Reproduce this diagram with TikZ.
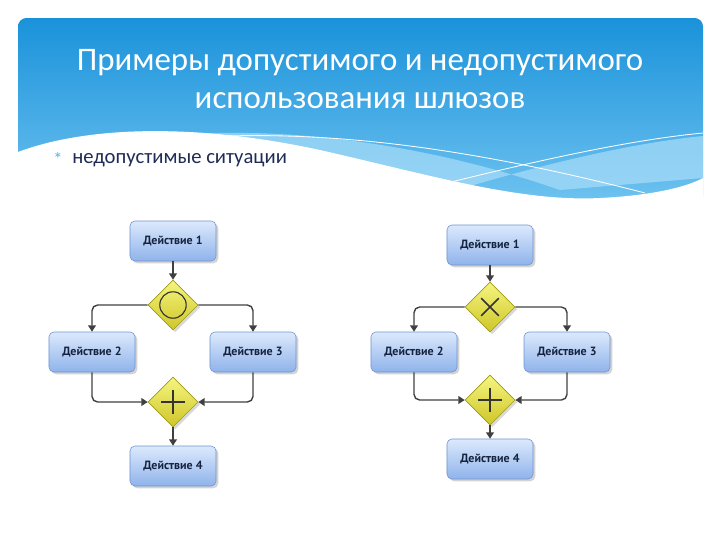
\documentclass[tikz,border=0pt]{standalone}
\usepackage{fontspec}
\setmainfont{Carlito}
\newfontfamily\boxfont{PT Sans}
\usetikzlibrary{shapes.geometric,arrows.meta,shadows}

\definecolor{bannertop}{HTML}{1A92DA}
\definecolor{bannerbot}{HTML}{6FC3F0}
\definecolor{bandlight}{HTML}{A9DDF8}
\definecolor{bullet}{HTML}{52B6E8}
\definecolor{navy}{HTML}{1F2C55}
\definecolor{boxtop}{HTML}{DCE9FC}
\definecolor{boxbot}{HTML}{8FB3EB}
\definecolor{boxline}{HTML}{6F94D2}
\definecolor{boxtext}{HTML}{15233F}
\definecolor{gatetop}{HTML}{F5F57E}
\definecolor{gatebot}{HTML}{CFC62A}
\definecolor{gateline}{HTML}{9E9A18}
\definecolor{flowline}{HTML}{404040}

\tikzset{
  action/.style={rounded corners=3.5pt,draw=boxline,top color=boxtop,bottom color=boxbot,
    minimum width=2.15cm,minimum height=1cm,text=boxtext,
    font=\boxfont\bfseries\fontsize{8.5}{10}\selectfont,
    drop shadow={opacity=0.35,shadow xshift=1.6pt,shadow yshift=-1.6pt}},
  gateway/.style={diamond,aspect=1,minimum size=1.25cm,inner sep=0pt,draw=gateline,
    top color=gatetop,bottom color=gatebot,
    drop shadow={opacity=0.3,shadow xshift=1.6pt,shadow yshift=-1.6pt}},
  flow/.style={draw=flowline,line width=1pt,rounded corners=4pt,
    -{Triangle[length=4.5pt,width=5.5pt]}},
  symbol/.style={draw=flowline!80!black,line width=1.2pt},
}

\begin{document}
\begin{tikzpicture}[x=0.025cm,y=-0.025cm]
  \useasboundingbox (0,0) rectangle (720,540);

  % баннер
  \shade[top color=bannertop,bottom color=bannerbot,rounded corners=6pt]
    (18,18) rectangle (703,205);
  \fill[bandlight,opacity=0.7] (190,134) .. controls (300,128) and (430,145) .. (560,190)
    -- (703,178) -- (703,136) .. controls (640,142) and (560,160) .. (470,186) -- cycle;
  \fill[white] (18,152) .. controls (90,125) and (200,124) .. (320,150)
    .. controls (430,175) and (520,202) .. (600,198)
    .. controls (660,195) and (690,185) .. (703,178) -- (703,210) -- (18,210) -- cycle;
  \draw[white,line width=0.6pt] (225,136) .. controls (330,133) and (460,145) .. (645,193);
  \draw[white,line width=0.6pt] (443,184) .. controls (540,160) and (630,140) .. (703,133);

  % заголовок
  \node[text=white,align=center,font=\fontsize{23.4}{27}\selectfont] (title) at (360,79)
    {Примеры допустимого и недопустимого\\использования шлюзов};
  \node[text=bullet,font=\fontsize{13}{15}\selectfont] (star) at (58,159) {*};
  \node[text=navy,anchor=west,inner sep=0pt,font=\fontsize{14.7}{18}\selectfont] (sub) at (72,160)
    {недопустимые ситуации};

  % левая схема
  \node[action] (l-a1) at (173,241) {Действие 1};
  \node[gateway] (l-g1) at (173,305) {};
  \node[action] (l-a2) at (92,352) {Действие 2};
  \node[action] (l-a3) at (253,352) {Действие 3};
  \node[gateway] (l-g2) at (173,402) {};
  \node[action] (l-a4) at (173,466) {Действие 4};

  % правая схема
  \node[action] (r-a1) at (490,245) {Действие 1};
  \node[gateway] (r-g1) at (490,307) {};
  \node[action] (r-a2) at (414,352) {Действие 2};
  \node[action] (r-a3) at (567,352) {Действие 3};
  \node[gateway] (r-g2) at (490,400) {};
  \node[action] (r-a4) at (490,459) {Действие 4};

  % символы шлюзов
  \draw[symbol,line width=0.8pt] (l-g1.center) circle (0.33cm);
  \draw[symbol] ([xshift=-0.22cm,yshift=-0.22cm]r-g1.center) -- ([xshift=0.22cm,yshift=0.22cm]r-g1.center);
  \draw[symbol] ([xshift=-0.22cm,yshift=0.22cm]r-g1.center) -- ([xshift=0.22cm,yshift=-0.22cm]r-g1.center);
  \foreach \p in {l,r}{
    \draw[symbol] ([xshift=-0.3cm]\p-g2.center) -- ([xshift=0.3cm]\p-g2.center);
    \draw[symbol] ([yshift=-0.3cm]\p-g2.center) -- ([yshift=0.3cm]\p-g2.center);
  }

  % переходы
  \foreach \p in {l,r}{
    \draw[flow] (\p-a1) -- (\p-g1);
    \draw[flow] (\p-g1.west) -| (\p-a2);
    \draw[flow] (\p-g1.east) -| (\p-a3);
    \draw[flow] (\p-a2.south) |- (\p-g2.west);
    \draw[flow] (\p-a3.south) |- (\p-g2.east);
    \draw[flow] (\p-g2) -- (\p-a4);
  }
\end{tikzpicture}
\end{document}
